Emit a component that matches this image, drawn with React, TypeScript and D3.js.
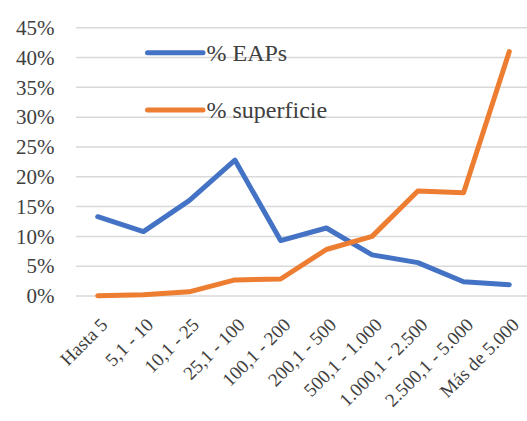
import React from "react";
import * as d3 from "d3";

const categories = [
  "Hasta 5",
  "5,1 - 10",
  "10,1 - 25",
  "25,1 - 100",
  "100,1 - 200",
  "200,1 - 500",
  "500,1 - 1.000",
  "1.000,1 - 2.500",
  "2.500,1 - 5.000",
  "Más de 5.000",
];
const eaps = [13.3, 10.8, 16.0, 22.8, 9.3, 11.4, 6.9, 5.6, 2.4, 1.9];
const superficie = [0.05, 0.2, 0.7, 2.7, 2.85, 7.8, 10.0, 17.6, 17.3, 41.0];
const yTicks = [0, 5, 10, 15, 20, 25, 30, 35, 40, 45];
const seriesNames = ["% EAPs", "% superficie"];

const W = 527;
const H = 421;
const TEXT = "#404040";
const COLORS = ["#4472C4", "#ED7D31"];
const FONT = '"Liberation Serif", "Times New Roman", serif';

export default function App() {
  const x = d3.scalePoint<string>().domain(categories).range([97.7, 509.3]);
  const y = d3.scaleLinear().domain([0, 45]).range([296, 27.7]);
  const line = d3
    .line<number>()
    .x((_, i) => x(categories[i]) as number)
    .y((d) => y(d));
  const series = [eaps, superficie];
  const legendY = [52.7, 110];

  return (
    <svg
      width={W}
      height={H}
      style={{ position: "absolute", left: 0, top: 0 }}
    >
      <rect width={W} height={H} fill="#fff" />
      {yTicks.map((t) => (
        <g key={t}>
          <line x1={76} x2={532} y1={y(t)} y2={y(t)} stroke="#D9D9D9" strokeWidth={1.5} />
          <text
            x={54.5}
            y={y(t) + 7.3}
            textAnchor="end"
            fontSize={21}
            fill={TEXT}
            style={{ fontFamily: FONT }}
          >
            {`${t}%`}
          </text>
        </g>
      ))}
      {series.map((s, i) => (
        <path
          key={i}
          d={line(s) || ""}
          fill="none"
          stroke={COLORS[i]}
          strokeWidth={5}
          strokeLinejoin="round"
          strokeLinecap="round"
        />
      ))}
      {categories.map((c) => (
        <text
          key={c}
          transform={`translate(${(x(c) as number) + 11},${326}) rotate(-45)`}
          textAnchor="end"
          fontSize={19}
          fill={TEXT}
          style={{ fontFamily: FONT }}
        >
          {c}
        </text>
      ))}
      {seriesNames.map((n, i) => (
        <g key={n}>
          <line
            x1={147.5}
            x2={203}
            y1={legendY[i]}
            y2={legendY[i]}
            stroke={COLORS[i]}
            strokeWidth={5}
            strokeLinecap="round"
          />
          <text
            x={206.5}
            y={legendY[i] + 8.3}
            fontSize={24}
            fill={TEXT}
            style={{ fontFamily: FONT }}
          >
            {n}
          </text>
        </g>
      ))}
    </svg>
  );
}
